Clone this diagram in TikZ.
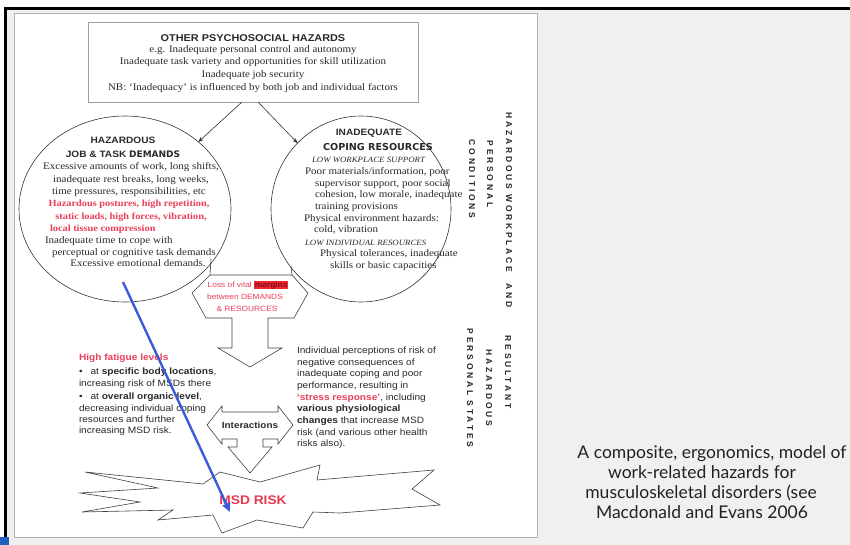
\documentclass[tikz,border=0pt]{standalone}
\usepackage{fontspec}
\setmainfont{Liberation Serif}
\newfontfamily\serifx{Liberation Serif}[FakeStretch=1.1]
\newfontfamily\sansx{Liberation Sans}[FakeStretch=1.1]
\newfontfamily\heavyx{DejaVu Sans}
\newfontfamily\vlab{Liberation Sans}[LetterSpace=33]
\newfontfamily\capfont{Lato}
\usetikzlibrary{shapes.geometric,arrows.meta,calc}
\setlength{\fboxsep}{0.8pt}
\definecolor{txt}{HTML}{2A2A2A}
\definecolor{redt}{HTML}{E8405A}
\definecolor{msdred}{HTML}{E8384F}
\definecolor{hl}{HTML}{F0262E}
\definecolor{dred}{HTML}{7A1020}
\definecolor{bluearr}{HTML}{3B5BDB}
\definecolor{slide}{HTML}{F0F0F0}
\definecolor{cornerblue}{HTML}{1F5FBF}
\definecolor{captxt}{HTML}{222222}
\begin{document}
\begin{tikzpicture}[x=1pt,y=-1pt,
  every node/.style={inner sep=0pt, outer sep=0pt, text=txt},
  serifc/.style={font=\serifx\fontsize{10}{12}\selectfont, anchor=base},
  serifl/.style={font=\serifx\fontsize{10}{12}\selectfont, anchor=base west},
  redserifc/.style={font=\serifx\bfseries\fontsize{9.4}{12}\selectfont, anchor=base, text=redt},
  redserifl/.style={font=\serifx\bfseries\fontsize{9.4}{12}\selectfont, anchor=base west, text=redt},
  itall/.style={font=\serifx\itshape\fontsize{8}{12}\selectfont, anchor=base west},
  sansl/.style={font=\sansx\fontsize{9.2}{12}\selectfont, anchor=base west},
  headc/.style={font=\sansx\bfseries\fontsize{9.2}{12}\selectfont, anchor=base},
  centerred/.style={font=\sansx\fontsize{7.6}{10}\selectfont, anchor=base, text=redt},
  vlabel/.style={font=\vlab\bfseries\fontsize{8.5}{10}\selectfont, rotate=-90, anchor=center, text=black!85},
  capc/.style={font=\capfont\fontsize{17.5}{20}\selectfont, anchor=base, text=captxt},
  shapeline/.style={draw=black!75, line width=0.6pt, fill=white, line join=miter},
  circ/.style={draw=black!80, line width=0.6pt, ellipse, fill=white},
  toparrow/.style={draw=black!80, line width=0.6pt, -{Stealth[length=5pt,width=4pt]}}
]
\useasboundingbox (0,0) rectangle (850,545);
\fill[white] (0,0) rectangle (850,545);
\fill[slide] (5,8) rectangle (850,545);
% diagram panel
\fill[white, draw=gray!60, line width=1pt] (14,14) rectangle (537,537);
\draw[black, line width=2.5pt] (850,8.5) -- (5.5,8.5) -- (5.5,537);
\fill[cornerblue] (0,537) rectangle (9,545);

% top box
\node[draw=gray!75, line width=0.8pt, minimum width=330pt, minimum height=80pt, anchor=north west] (topbox) at (88,22) {};
\node[headc, font=\sansx\bfseries\fontsize{9.9}{12}\selectfont] (tt) at (253,41.5) {OTHER PSYCHOSOCIAL HAZARDS};
\node[serifc] (t1) at (253,52.5) {e.g. Inadequate personal control and autonomy};
\node[serifc] (t2) at (253,65) {Inadequate task variety and opportunities for skill utilization};
\node[serifc] (t3) at (253,78) {Inadequate job security};
\node[serifc] (t4) at (253,91) {NB: ‘Inadequacy’ is influenced by both job and individual factors};

% circles
\node[circ, minimum width=212pt, minimum height=186pt] (lc) at (125,209) {};
\node[circ, minimum width=180pt, minimum height=186pt] (rc) at (361,209) {};
\coordinate (a1) at (242,102);
\coordinate (a2) at (258,102);
\draw[toparrow] (a1) -- (lc);
\draw[toparrow] (a2) -- (rc);

% left circle text
\node[headc] (lh1) at (123,143.5) {HAZARDOUS};
\node[headc] (lh2) at (123,157.5) {JOB \& TASK {\heavyx\bfseries\fontsize{9}{12}\selectfont DEMANDS}};
\node[serifc] (l1) at (131,170) {Excessive amounts of work, long shifts,};
\node[serifc] (l2) at (131,183) {inadequate rest breaks, long weeks,};
\node[serifc] (l3) at (129,195) {time pressures, responsibilities, etc};
\node[redserifc] (l4) at (129,206.5) {Hazardous postures, high repetition,};
\node[redserifc] (l5) at (131,219) {static loads, high forces, vibration,};
\node[redserifl] (l6) at (50,231) {local tissue compression};
\node[serifl] (l7) at (45,243) {Inadequate time to cope with};
\node[serifl] (l8) at (52,255) {perceptual or cognitive task demands};
\node[serifc] (l9) at (138,266.5) {Excessive emotional demands.};

% right circle text
\node[headc] (rh1) at (369,136) {INADEQUATE};
\node[headc] (rh2) at (378,150.5) {{\heavyx\bfseries\fontsize{9.6}{12}\selectfont COPING RESOURCES}};
\node[itall] (r1) at (312,163) {LOW WORKPLACE SUPPORT};
\node[serifl] (r2) at (305,175) {Poor materials/information, poor};
\node[serifl] (r3) at (315,186.5) {supervisor support, poor social};
\node[serifl] (r4) at (315,198) {cohesion, low morale, inadequate};
\node[serifl] (r5) at (315,210) {training provisions};
\node[serifl] (r6) at (304,221.5) {Physical environment hazards:};
\node[serifl] (r7) at (314,233) {cold, vibration};
\node[itall] (r8) at (305,245) {LOW INDIVIDUAL RESOURCES};
\node[serifl] (r9) at (320,256.5) {Physical tolerances, inadequate};
\node[serifl] (r10) at (330,268) {skills or basic capacities};

% vertical labels
\node[vlabel] (v1) at (509,210) {HAZARDOUS WORKPLACE\hspace{6pt} AND};
\node[vlabel] (v2) at (490,174) {PERSONAL};
\node[vlabel] (v3) at (472,179) {CONDITIONS};
\node[vlabel] (v4) at (508,372) {RESULTANT};
\node[vlabel] (v5) at (489,388) {HAZARDOUS};
\node[vlabel] (v6) at (470,388) {PERSONAL STATES};

% central margin arrow
\draw[shapeline] (210,275) -- (192,293) -- (206,318) -- (232,318) -- (232,348) -- (218,348)
  -- (250,367) -- (282,348) -- (268,348) -- (268,318) -- (294,318) -- (308,293) -- (292,275) -- cycle;
\draw[draw=black!75, line width=0.6pt] (210,275) -- (211,259);
\draw[draw=black!75, line width=0.6pt] (292,275) -- (291,266);
\node[centerred] (c1) at (248,287) {Loss of vital \colorbox{hl}{\textcolor{dred}{\bfseries margins}}};
\node[centerred] (c2) at (245,299) {between DEMANDS};
\node[centerred] (c3) at (247,311) {\& RESOURCES};

% left text block
\node[sansl, text=redt, font=\sansx\bfseries\fontsize{9.2}{12}\selectfont] (b1) at (79,360) {High fatigue levels};
\node[sansl] (b2) at (79,374) {\textbullet\hspace{8pt}at \textbf{specific body locations},};
\node[sansl] (b3) at (79,386) {increasing risk of MSDs there};
\node[sansl] (b4) at (79,399) {\textbullet\hspace{8pt}at \textbf{overall organic level},};
\node[sansl] (b5) at (79,411) {decreasing individual coping};
\node[sansl] (b6) at (79,422.5) {resources and further};
\node[sansl] (b7) at (79,433.5) {increasing MSD risk.};

% right text block
\node[sansl] (p1) at (297,353) {Individual perceptions of risk of};
\node[sansl] (p2) at (297,365) {negative consequences of};
\node[sansl] (p3) at (297,376.5) {inadequate coping and poor};
\node[sansl] (p4) at (297,388) {performance, resulting in};
\node[sansl] (p5) at (297,400) {\textcolor{redt}{\textbf{‘stress response’}}, including};
\node[sansl] (p6) at (297,411.5) {\textbf{various physiological}};
\node[sansl] (p7) at (297,423) {\textbf{changes} that increase MSD};
\node[sansl] (p8) at (297,435) {risk (and various other health};
\node[sansl] (p9) at (297,446.5) {risks also).};

% star
\draw[shapeline] (85,472) -- (203,484) -- (220,472) -- (260,482) -- (320,465) -- (317,480) -- (340,478)
  -- (434,470) -- (412,489) -- (440,505) -- (340,513) -- (313,512) -- (303,528) -- (257,520)
  -- (222,533) -- (213,515) -- (158,520) -- (173,510) -- (82,512) -- (140,502) -- (80,493)
  -- (158,488) -- cycle;

% interactions arrow
\draw[shapeline] (207,425) -- (222,406) -- (222,412) -- (278,412) -- (278,406) -- (293,425)
  -- (278,444) -- (278,439) -- (263,439) -- (263,447) -- (272,447) -- (250,473) -- (228,447)
  -- (237,447) -- (237,439) -- (222,439) -- (222,444) -- cycle;
\node[anchor=base, font=\sansx\bfseries\fontsize{9}{12}\selectfont] (inter) at (250,428.5) {Interactions};

\node[anchor=base, text=msdred, font=\sansx\bfseries\fontsize{12.5}{14}\selectfont] (msd) at (253,504.5) {MSD RISK};

% blue arrow
\coordinate (bs) at (123,282);
\coordinate (be) at (230,512);
\draw[bluearr, line width=2.4pt, -{Triangle[length=9pt,width=8pt]}] (bs) -- (be);

% caption
\node[capc] (k1) at (712,458) {A composite, ergonomics, model of};
\node[capc] (k2) at (702,478) {work-related hazards for};
\node[capc] (k3) at (701,498) {musculoskeletal disorders (see};
\node[capc] (k4) at (702,518) {Macdonald and Evans 2006};
\end{tikzpicture}
\end{document}
